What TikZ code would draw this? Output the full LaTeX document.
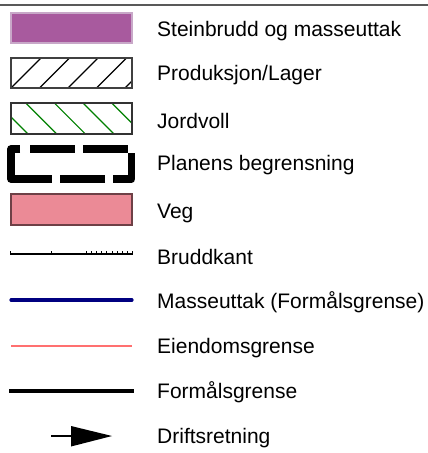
\documentclass[tikz,border=0pt]{standalone}
\usepackage{fontspec}
\setmainfont{Liberation Sans}
\definecolor{steinpurple}{RGB}{168,90,158}
\definecolor{steinedge}{RGB}{200,168,200}
\definecolor{vegpink}{RGB}{235,138,150}
\definecolor{vegedge}{RGB}{110,64,70}
\definecolor{jordgreen}{RGB}{0,128,0}
\definecolor{masseblue}{RGB}{0,0,128}
\definecolor{eiendomred}{RGB}{255,112,112}
\tikzset{
    legendtext/.style={anchor=west, inner sep=0pt, font=\fontsize{21}{24}\selectfont},
    boundary/.style={line width=7.5, line join=round},
}
\begin{document}
\begin{tikzpicture}[x=1pt,y=-1pt]
        \useasboundingbox (0,0) rectangle (428,453);

        % top rule
        \draw[line width=2, black!65] (0,5) -- (428,5);

        % steinbrudd
        \draw[fill=steinpurple, draw=steinedge, line width=1.2] (11,13) rectangle (132,43);

        % produksjon/lager
        \begin{scope}
            \clip (11,58) rectangle (132,88);
            \foreach \i in {-1,...,5}
                \draw[line width=1.2] (11+28.5*\i,88) -- (41+28.5*\i,58);
        \end{scope}
        \draw[line width=1.2, black!75] (11,58) rectangle (132,88);

        % jordvoll
        \begin{scope}
            \clip (11,103) rectangle (132,134);
            \foreach \i in {-1,...,5}
                \draw[line width=1.2, jordgreen] (-3+28.7*\i,103) -- (28+28.7*\i,134);
        \end{scope}
        \draw[line width=1.2, black!80] (11,103) rectangle (132,134);

        % planens begrensning
        \draw[boundary] (20,149) -| (11,179) -- (52,179);
        \draw[boundary] (30,149) -- (75,149);
        \draw[boundary] (83,149) -- (128,149);
        \draw[boundary] (131.5,153) |- (113,179);
        \draw[boundary] (105,179) -- (60,179);

        % veg
        \draw[fill=vegpink, draw=vegedge, line width=1.2] (11,194) rectangle (132,225);

        % bruddkant
        \draw[line width=1.3] (10,254) -- (133,254);
        \draw[line width=1] (10.5,254) -- (10.5,251);
        \draw[line width=1] (51,254) -- (51,250.5);
        \foreach \t in {0,...,9}
            \draw[line width=1] (86.5+5.1*\t,254) -- (86.5+5.1*\t,250.5);

        % masseuttak (formalsgrense)
        \draw[line width=3.2, masseblue, line cap=round] (11,300) -- (132,300);

        % eiendomsgrense
        \draw[line width=1.4, eiendomred] (11,346) -- (132,346);

        % formalsgrense
        \draw[line width=3.8] (9,391) -- (134,391);

        % driftsretning
        \draw[line width=2.2] (51,436) -- (72,436);
        \fill (71,426) -- (112,436) -- (71,446.5) -- cycle;

        % labels
        \node[legendtext] (stein) at (157,31) {Steinbrudd og masseuttak};
        \node[legendtext] (prod) at (157,75) {Produksjon/Lager};
        \node[legendtext] (jord) at (157,121) {Jordvoll};
        \node[legendtext] (plan) at (157,165) {Planens begrensning};
        \node[legendtext] (veg) at (157,213) {Veg};
        \node[legendtext] (brudd) at (157,257) {Bruddkant};
        \node[legendtext] (masse) at (157,302) {Masseuttak (Formålsgrense)};
        \node[legendtext] (eiendom) at (157,348) {Eiendomsgrense};
        \node[legendtext] (formal) at (157,392) {Formålsgrense};
        \node[legendtext] (drift) at (157,438) {Driftsretning};

    \end{tikzpicture}
\end{document}
